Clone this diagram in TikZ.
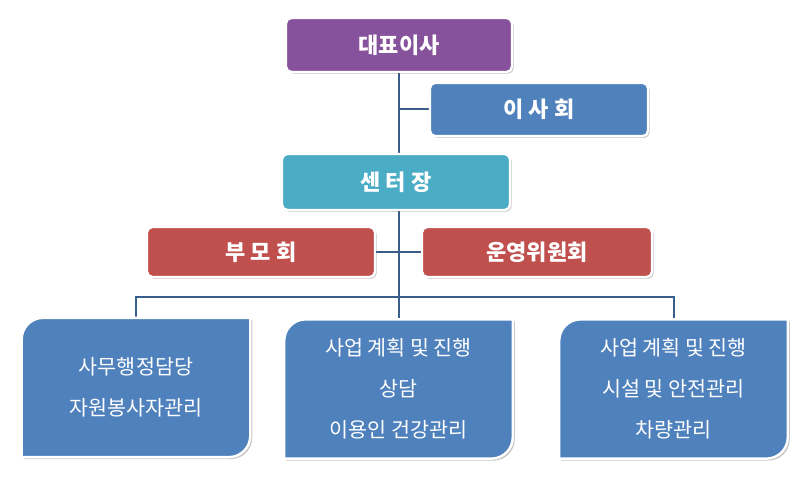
\documentclass[tikz,border=0pt]{standalone}
\usepackage{fontspec}
\setmainfont{Noto Sans CJK KR}
\usetikzlibrary{shadows,backgrounds}
\definecolor{cpurple}{RGB}{135,82,156}
\definecolor{cblue}{RGB}{79,129,189}
\definecolor{cteal}{RGB}{75,172,198}
\definecolor{cred}{RGB}{192,80,77}
\definecolor{cline}{RGB}{56,93,138}
\begin{document}
\begin{tikzpicture}[x=0.75pt,y=0.75pt,
  topbox/.style={draw=white, line width=1.8pt, rounded corners=4pt, text=white,
    font=\fontsize{16.5}{18}\selectfont\bfseries, inner sep=0pt,
    drop shadow={shadow xshift=1.2pt, shadow yshift=-1.2pt, fill=black, opacity=0.25}},
  leaf/.style={text=white, align=center, inner sep=0pt,
    minimum width=171pt, minimum height=104pt,
    font=\fontsize{15.5}{30.8}\selectfont},
  conn/.style={draw=cline, line width=1.5pt}]
\useasboundingbox (0,0) rectangle (812,481);

% top boxes
\node[topbox, fill=cpurple, minimum width=169.5pt, minimum height=40.5pt] (dp) at (399,436) {대표이사};
\node[topbox, fill=cblue, minimum width=163.5pt, minimum height=40pt] (isa) at (539,371.5) {이 사 회};
\node[topbox, fill=cteal, minimum width=171pt, minimum height=42pt] (cen) at (396,299) {센 터 장};
\node[topbox, fill=cred, minimum width=171pt, minimum height=37.5pt] (bumo) at (261,229) {부 모 회};
\node[topbox, fill=cred, minimum width=172.5pt, minimum height=37.5pt] (uny) at (537,229) {운영위원회};

% leaf boxes (text)
\node[leaf] (b1) at (136,93.5) {사무행정담당\\자원봉사자관리};
\node[leaf] (b2) at (398.5,92) {사업 계획 및 진행\\상담\\이용인 건강관리};
\node[leaf] (b3) at (673.5,92) {사업 계획 및 진행\\시설 및 안전관리\\차량관리};

\coordinate (bus) at (399,184);

\begin{scope}[on background layer]
  % connectors
  \draw[conn] (dp.south) -- (dp.south |- cen.north);
  \draw[conn] (dp.south |- isa.west) -- (isa.west);
  \draw[conn] (cen.south -| bus) -- (bus);
  \draw[conn] (bumo.east) -- (uny.west);
  \draw[conn] (b1.north) |- (bus) -| (b3.north);
  \draw[conn] (bus) -- (b2.north -| bus);
  % leaf shapes
  \foreach \n in {b1,b2,b3}{
    \fill[black, opacity=0.22]
      ([xshift=1.5pt,yshift=-1.5pt]\n.south west) -- ([xshift=1.5pt,yshift=-17.5pt]\n.north west)
      arc[start angle=180, end angle=90, radius=16pt] -- ([xshift=1.5pt,yshift=-1.5pt]\n.north east)
      -- ([xshift=1.5pt,yshift=14.5pt]\n.south east)
      arc[start angle=0, end angle=-90, radius=16pt] -- cycle;
    \filldraw[fill=cblue, draw=white, line width=1.8pt]
      (\n.south west) -- ([yshift=-16pt]\n.north west)
      arc[start angle=180, end angle=90, radius=16pt] -- (\n.north east)
      -- ([yshift=16pt]\n.south east)
      arc[start angle=0, end angle=-90, radius=16pt] -- cycle;
  }
\end{scope}
\end{tikzpicture}
\end{document}
